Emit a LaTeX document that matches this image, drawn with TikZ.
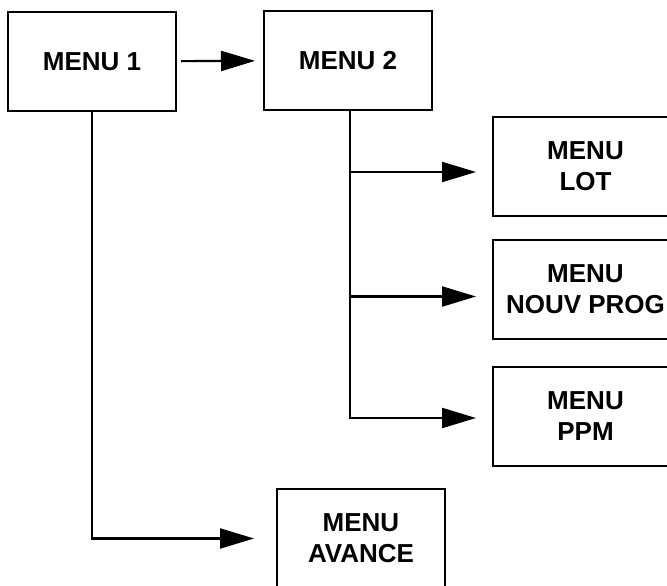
\documentclass[tikz,border=0pt]{standalone}
\usepackage{fontspec}
\setmainfont{Liberation Sans}
\usetikzlibrary{arrows.meta}
\tikzstyle{menu}=[draw, line width=2pt, minimum width=168pt, minimum height=99pt, inner sep=0pt, align=center, font=\fontsize{26}{31}\selectfont\bfseries]
\tikzstyle{wide menu}=[menu, minimum width=185pt]
\tikzstyle{link}=[line width=2.2pt]
\tikzstyle{flow}=[link, -{Triangle[length=34pt, width=20pt]}]

\begin{document}
\begin{tikzpicture}[x=1pt, y=-1pt]
      \useasboundingbox (0, 0) rectangle (667, 586);
      \clip (0, 0) rectangle (667, 586);
      \node[menu] (menuone) at (92, 61.5) {MENU 1};
      \node[menu] (menutwo) at (348, 60.5) {MENU 2};
      \node[wide menu] (lot) at (585.5, 166) {MENU\\LOT};
      \node[wide menu] (prog) at (585.5, 289.5) {MENU\\NOUV PROG};
      \node[wide menu] (ppm) at (585.5, 416) {MENU\\PPM};
      \node[menu] (avance) at (361, 538.5) {MENU\\AVANCE};
      \draw[flow, shorten <=4pt, shorten >=8pt] (menuone) -- (menutwo);
      \draw[flow, shorten >=22pt] (menuone.south) |- (avance);
      \draw[link] ([xshift=2pt]menutwo.south) -- ([xshift=2pt, yshift=-2pt]menutwo.south |- ppm);
      \draw[flow, shorten >=16pt] ([xshift=2pt]menutwo.south) |- ([yshift=-6pt]lot.west);
      \draw[flow, shorten >=16pt] ([xshift=2pt]menutwo.south) |- ([yshift=-7pt]prog.west);
      \draw[flow, shorten >=16pt] ([xshift=2pt]menutwo.south) |- ([yshift=-2pt]ppm.west);
    \end{tikzpicture}
\end{document}
